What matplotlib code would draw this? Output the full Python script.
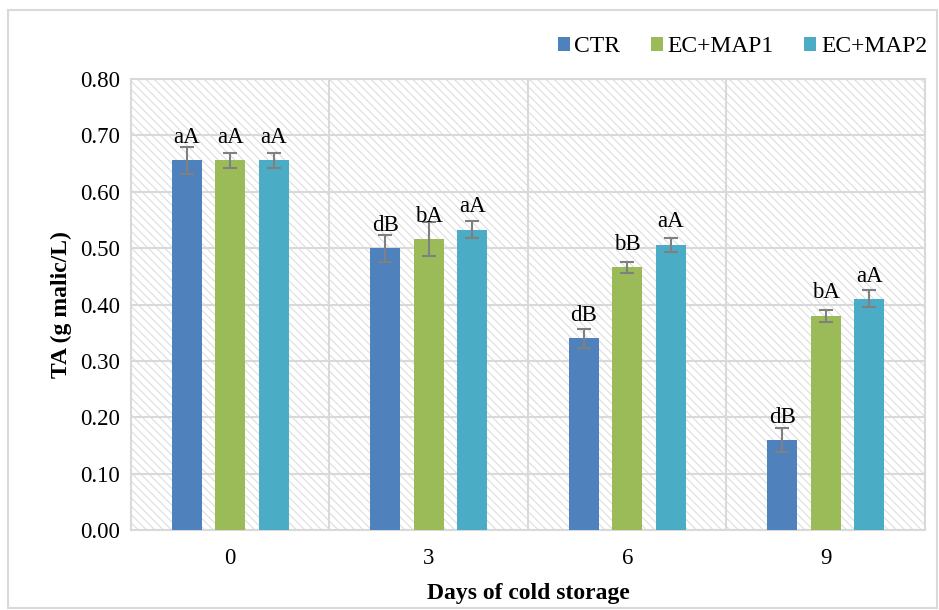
import numpy as np
import matplotlib.pyplot as plt
from matplotlib.patches import Rectangle

plt.rcParams['font.family'] = ['Liberation Serif', 'DejaVu Serif']
plt.rcParams['hatch.linewidth'] = 0.8

days = ['0', '3', '6', '9']
series = ['CTR', 'EC+MAP1', 'EC+MAP2']
colors = ['#4F81BD', '#9BBB59', '#4BACC6']

ctr = [0.656, 0.500, 0.340, 0.160]
map1 = [0.656, 0.516, 0.466, 0.380]
map2 = [0.656, 0.533, 0.506, 0.410]

ctr_err = [0.024, 0.024, 0.017, 0.021]
map1_err = [0.013, 0.030, 0.010, 0.011]
map2_err = [0.013, 0.015, 0.012, 0.015]

ctr_lab = ['aA', 'dB', 'dB', 'dB']
map1_lab = ['aA', 'bA', 'bB', 'bA']
map2_lab = ['aA', 'aA', 'aA', 'aA']

values = [ctr, map1, map2]
errors = [ctr_err, map1_err, map2_err]
labels = [ctr_lab, map1_lab, map2_lab]

fig = plt.figure(figsize=(9.39, 6.10), dpi=100)
ax = fig.add_axes([0.1395, 0.131, 0.8455, 0.7395])

# border around the whole chart
fig.patches.append(Rectangle((0.008, 0.003), 0.99, 0.98, transform=fig.transFigure,
                             fill=False, edgecolor='#d9d9d9', linewidth=1.5))

# hatched background
ax.add_patch(Rectangle((0, 0), 1, 1, transform=ax.transAxes, facecolor='white',
                       edgecolor='#dedede', hatch='\\\\\\\\', linewidth=0, zorder=0))

x = np.arange(len(days))
width = 0.151
offsets = [-0.219, 0, 0.219]

for i in range(3):
    pos = x + offsets[i]
    ax.bar(pos, values[i], width, color=colors[i], label=series[i], zorder=3)
    ax.errorbar(pos, values[i], yerr=errors[i], fmt='none', ecolor='#808080',
                elinewidth=1.5, capsize=5, capthick=1.5, zorder=4)
    for p, v, t in zip(pos, values[i], labels[i]):
        ax.annotate(t, (p, v), xytext=(0, 12.5), textcoords='offset points',
                    ha='center', va='baseline', fontsize=16.5, zorder=5)

ax.set_xlim(-0.5, 3.5)
ax.set_ylim(0, 0.8)
ax.set_yticks(np.arange(0, 0.81, 0.1))
ax.set_yticklabels(['%.2f' % v for v in np.arange(0, 0.81, 0.1)])
ax.set_xticks(x)
ax.set_xticklabels(days)
ax.set_xticks([0.5, 1.5, 2.5], minor=True)
ax.tick_params(axis='both', which='both', length=0, labelsize=16.5, pad=8)
ax.tick_params(axis='x', pad=13)
ax.grid(True, axis='y', color='#d9d9d9', linewidth=1.5, zorder=1)
ax.grid(True, axis='x', which='minor', color='#d9d9d9', linewidth=1.5, zorder=1)
ax.set_axisbelow(True)
for s in ax.spines.values():
    s.set_color('#d9d9d9')
    s.set_linewidth(1.5)

ax.set_xlabel('Days of cold storage', fontsize=17, fontweight='bold', labelpad=10)
ax.set_ylabel('TA (g malic/L)', fontsize=17, fontweight='bold', labelpad=6)

ax.legend(loc='upper right', bbox_to_anchor=(1.01, 0.975), bbox_transform=fig.transFigure,
          ncol=3, frameon=False, fontsize=17, handlelength=0.5, handleheight=0.5,
          handletextpad=0.2, columnspacing=1.3)

fig.savefig('out.png', dpi=100)
